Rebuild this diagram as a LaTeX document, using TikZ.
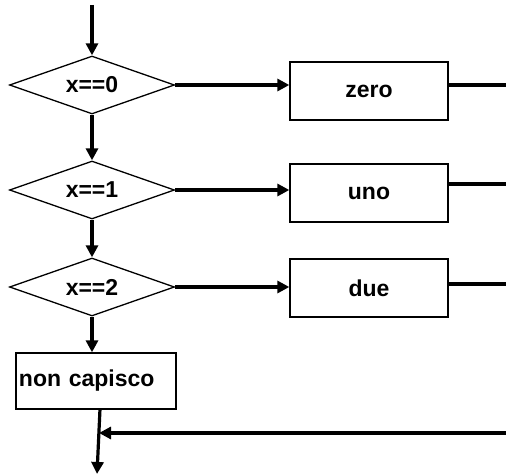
\documentclass[tikz,border=0pt]{standalone}
\usepackage{fontspec}
\setmainfont{Liberation Sans}
\usetikzlibrary{shapes.geometric,arrows.meta}
\begin{document}
\begin{tikzpicture}[x=1pt,y=-1pt,
  lbl/.style={font=\fontsize{23}{23}\selectfont\bfseries},
  test/.style={lbl, draw, line width=1.3pt, shape=diamond, aspect=2.84,
    minimum width=165pt, minimum height=58pt, inner sep=0pt},
  action/.style={lbl, draw, line width=1.3pt, rectangle,
    minimum width=158pt, minimum height=58pt, inner sep=0pt},
  flow/.style={line width=3.2pt},
  arr/.style={flow, -{Triangle[length=12pt,width=12pt]}}]
\useasboundingbox (0,0) rectangle (506,476);

% decision chain
\node[test] (d1) at (92,85)  {x==0};
\node[test] (d2) at (92,190) {x==1};
\node[test] (d3) at (92,287) {x==2};

% actions
\node[action] (z) at (369,91)  {zero};
\node[action] (u) at (369,193) {uno};
\node[action] (d) at (369,288) {due};
\node[lbl, draw, line width=1.3pt, rectangle, minimum width=160pt,
      minimum height=56pt, inner sep=0pt, text width=154pt, align=left,
      inner xsep=3pt] (nc) at (96,381) {non capisco};

% free ends
\coordinate (start) at (92,5);
\coordinate (zout) at (506,85);
\coordinate (uout) at (506,184);
\coordinate (dout) at (506,284);
\coordinate (back) at (506,433);
\coordinate (ncout) at (100,409);
\coordinate (join) at (99,433);
\coordinate (end) at (97,474);

% vertical flow
\draw[arr] (start) -- (d1.north);
\draw[arr] (d1.south) -- (d2.north);
\draw[arr] (d2.south) -- (d3.north);
\draw[arr] (d3.south) -- (d3.south |- nc.north);
\draw[arr] (ncout) -- (end);

% branches
\draw[arr] (d1.east) -- (d1.east -| z.west);
\draw[arr] (d2.east) -- (d2.east -| u.west);
\draw[arr] (d3.east) -- (d3.east -| d.west);
\draw[flow] (zout -| z.east) -- (zout);
\draw[flow] (uout -| u.east) -- (uout);
\draw[flow] (dout -| d.east) -- (dout);

% return path
\draw[arr] (back) -- (join);
\end{tikzpicture}
\end{document}
